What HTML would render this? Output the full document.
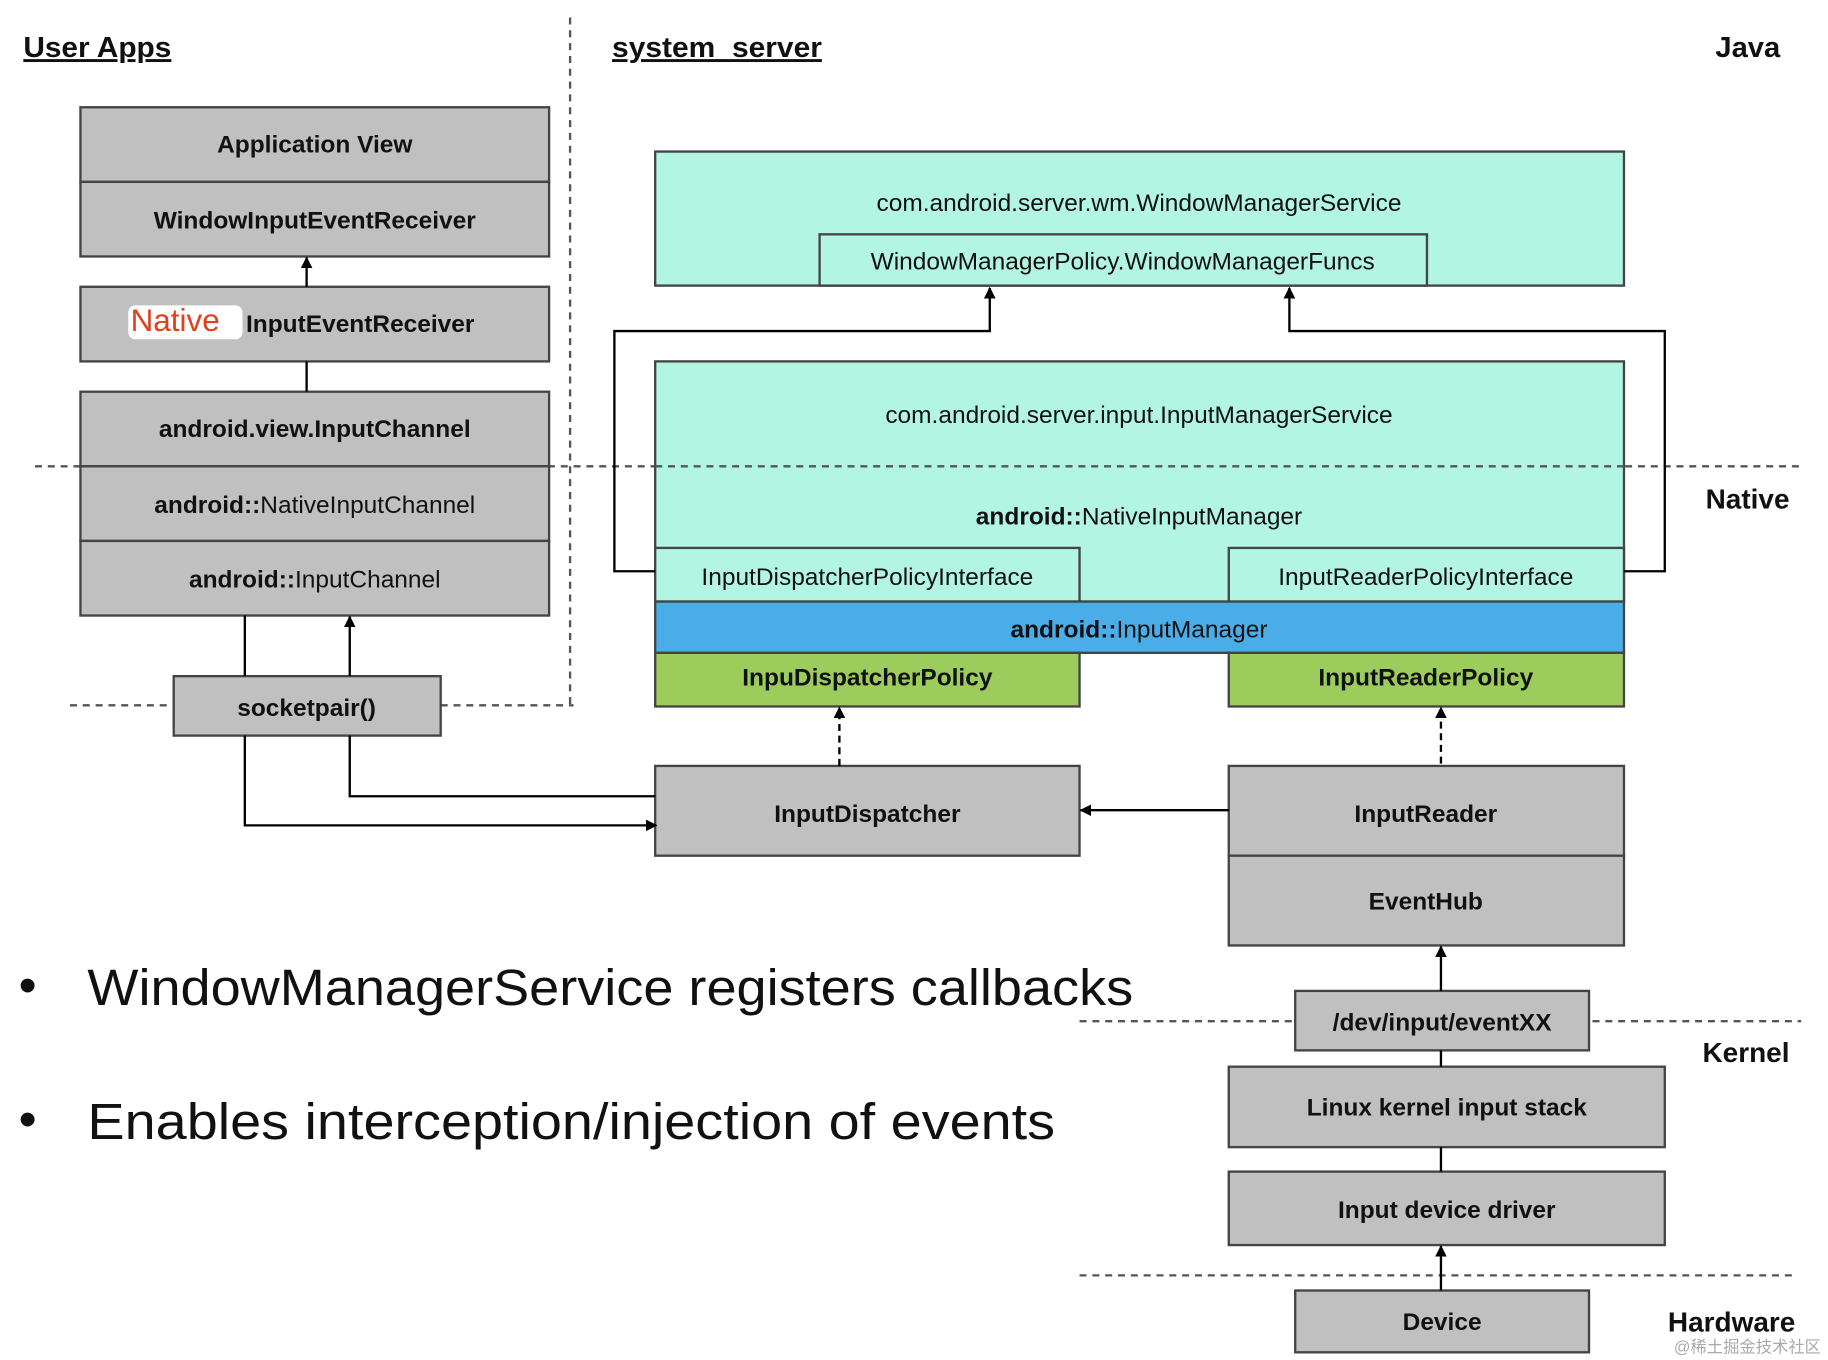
<!DOCTYPE html>
<html><head><meta charset="utf-8"><style>html,body{margin:0;padding:0;background:#fff}svg{display:block}</style></head><body>
<svg width="1828" height="1360" viewBox="0 0 1568 1166.6" preserveAspectRatio="none" xmlns="http://www.w3.org/2000/svg" font-family="Liberation Sans, sans-serif">
<defs>
<marker id="a" markerWidth="10" markerHeight="10" refX="9" refY="5" orient="auto" markerUnits="userSpaceOnUse"><path d="M0,0 L10,5 L0,10 z" fill="#000"/></marker>
</defs>
<g font-size="24" font-weight="bold" fill="#111">
<text x="20" y="49" font-size="25" text-decoration="underline" textLength="127" lengthAdjust="spacingAndGlyphs">User Apps</text>
<text x="525" y="49" font-size="25" text-decoration="underline" textLength="180" lengthAdjust="spacingAndGlyphs">system_server</text>
<text x="1527" y="49" text-anchor="end" font-size="25">Java</text>
<text x="1535" y="436" text-anchor="end">Native</text>
<text x="1535" y="911" text-anchor="end">Kernel</text>
<text x="1540" y="1142" text-anchor="end">Hardware</text>
</g>
<g stroke="#555" stroke-width="2" stroke-dasharray="6,5" fill="none">
<line x1="489" y1="15" x2="489" y2="605"/>
<line x1="30" y1="400" x2="1545" y2="400"/>
<line x1="60" y1="605" x2="149" y2="605"/>
<line x1="378" y1="605" x2="492" y2="605"/>
<line x1="926" y1="876" x2="1545" y2="876"/>
<line x1="926" y1="1094" x2="1540" y2="1094"/>
</g>
<g stroke="#444" stroke-width="2" fill="#c0c0c0">
<rect x="69" y="92" width="402" height="64"/>
<rect x="69" y="156" width="402" height="64"/>
<rect x="69" y="246" width="402" height="64"/>
<rect x="69" y="336" width="402" height="64"/>
<rect x="69" y="400" width="402" height="64"/>
<rect x="69" y="464" width="402" height="64"/>
<rect x="149" y="580" width="229" height="51"/>
<rect x="562" y="657" width="364" height="77"/>
<rect x="1054" y="657" width="339" height="77"/>
<rect x="1054" y="734" width="339" height="77"/>
<rect x="1111" y="850" width="252" height="51"/>
<rect x="1054" y="915" width="374" height="69"/>
<rect x="1054" y="1005" width="374" height="63"/>
<rect x="1111" y="1107" width="252" height="53"/>
</g>
<g stroke="#444" stroke-width="2">
<rect x="562" y="130" width="831" height="115" fill="#b3f5e3"/>
<rect x="703" y="201" width="521" height="44" fill="#b3f5e3"/>
<rect x="562" y="310" width="831" height="206" fill="#b3f5e3"/>
<rect x="562" y="470" width="364" height="46" fill="#b3f5e3"/>
<rect x="1054" y="470" width="339" height="46" fill="#b3f5e3"/>
<rect x="562" y="516" width="831" height="44" fill="#4aade8"/>
<rect x="562" y="560" width="364" height="46" fill="#9ccc5c"/>
<rect x="1054" y="560" width="339" height="46" fill="#9ccc5c"/>
</g>
<line x1="562" y1="400" x2="1393" y2="400" stroke="#555" stroke-width="2" stroke-dasharray="6,5"/>
<g stroke="#000" stroke-width="2" fill="none">
<line x1="263" y1="246" x2="263" y2="221" marker-end="url(#a)"/>
<line x1="263" y1="310" x2="263" y2="336"/>
<line x1="210" y1="528" x2="210" y2="580"/>
<polyline points="210,631 210,708 563,708" marker-end="url(#a)"/>
<line x1="300" y1="580" x2="300" y2="529" marker-end="url(#a)"/>
<polyline points="562,683 300,683 300,631"/>
<polyline points="562,490 527,490 527,284 849,284 849,247" marker-end="url(#a)"/>
<polyline points="1393,490 1428,490 1428,284 1106,284 1106,247" marker-end="url(#a)"/>
<line x1="720" y1="657" x2="720" y2="607" stroke-dasharray="6,4" marker-end="url(#a)"/>
<line x1="1236" y1="655" x2="1236" y2="607" stroke-dasharray="6,4" marker-end="url(#a)"/>
<line x1="1054" y1="695" x2="927" y2="695" marker-end="url(#a)"/>
<line x1="1236" y1="850" x2="1236" y2="812" marker-end="url(#a)"/>
<line x1="1236" y1="901" x2="1236" y2="915"/>
<line x1="1236" y1="984" x2="1236" y2="1005"/>
<line x1="1236" y1="1107" x2="1236" y2="1069" marker-end="url(#a)"/>
</g>
<rect x="110" y="262" width="98" height="29" rx="6" fill="#fff"/>
<text x="112" y="284" font-size="27" fill="#e04020">Native</text>
<g font-size="21" fill="#111" text-anchor="middle">
<g font-weight="bold">
<text x="270" y="131">Application View</text>
<text x="270" y="196">WindowInputEventReceiver</text>
<text x="211" y="285" text-anchor="start">InputEventReceiver</text>
<text x="270" y="375">android.view.InputChannel</text>
<text x="263" y="614">socketpair()</text>
<text x="744" y="705">InputDispatcher</text>
<text x="1223" y="705">InputReader</text>
<text x="1223" y="780">EventHub</text>
<text x="1237" y="884">/dev/input/eventXX</text>
<text x="1241" y="957">Linux kernel input stack</text>
<text x="1241" y="1045">Input device driver</text>
<text x="1237" y="1141">Device</text>
<text x="744" y="588">InpuDispatcherPolicy</text>
<text x="1223" y="588">InputReaderPolicy</text>
</g>
<text x="270" y="440"><tspan font-weight="bold">android::</tspan>NativeInputChannel</text>
<text x="270" y="504"><tspan font-weight="bold">android::</tspan>InputChannel</text>
<text x="977" y="181">com.android.server.wm.WindowManagerService</text>
<text x="963" y="231">WindowManagerPolicy.WindowManagerFuncs</text>
<text x="977" y="363">com.android.server.input.InputManagerService</text>
<text x="977" y="450"><tspan font-weight="bold">android::</tspan>NativeInputManager</text>
<text x="744" y="502">InputDispatcherPolicyInterface</text>
<text x="1223" y="502">InputReaderPolicyInterface</text>
<text x="977" y="547"><tspan font-weight="bold">android::</tspan>InputManager</text>
</g>
<g font-size="44" fill="#111">
<text x="16" y="860">•</text><text x="75" y="862" textLength="897" lengthAdjust="spacingAndGlyphs">WindowManagerService registers callbacks</text>
<text x="16" y="975">•</text><text x="75" y="977" textLength="830" lengthAdjust="spacingAndGlyphs">Enables interception/injection of events</text>
</g>
<text x="1562" y="1160" font-size="14" fill="#aaa" text-anchor="end" font-family="Liberation Sans, Noto Sans CJK SC, sans-serif">@稀土掘金技术社区</text>
</svg>
</body></html>
